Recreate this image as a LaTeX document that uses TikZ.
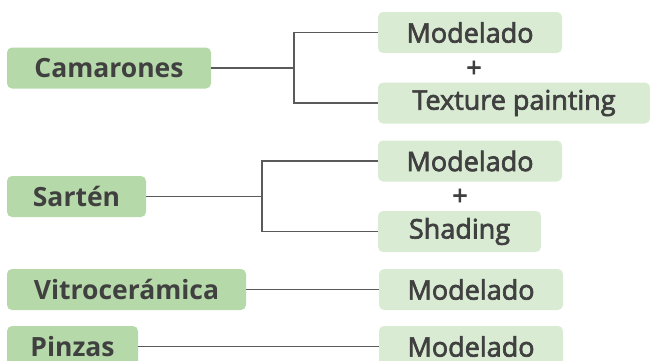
\documentclass[tikz,border=0pt]{standalone}
\usepackage{fontspec}
\setmainfont{Open Sans}
\newfontfamily\semib[FakeBold=2.5]{Open Sans}
\definecolor{darkfill}{HTML}{B6D9AA}
\definecolor{lightfill}{HTML}{D9ECD3}
\definecolor{txt}{HTML}{404040}
\definecolor{ln}{HTML}{5A5A5A}
\tikzset{
  leftbox/.style={fill=darkfill, rounded corners=5pt, minimum height=41pt, inner sep=0pt, text=txt, font=\fontsize{26.5}{26.5}\selectfont\bfseries},
  rightbox/.style={fill=lightfill, rounded corners=5pt, minimum height=41pt, inner sep=0pt, text=txt, font=\fontsize{27}{27}\semib},
  plus/.style={text=txt, font=\fontsize{27}{27}\semib, inner sep=0pt},
  conn/.style={draw=ln, line width=1.8pt}
}
\begin{document}
\begin{tikzpicture}[x=1pt,y=-1pt]
\useasboundingbox (0,0) rectangle (650,360);
\clip (0,0) rectangle (650,360);
\node[leftbox, minimum width=204pt] (cam) at (109,68) {Camarones};
\node[rightbox, minimum width=184pt] (m1) at (470,32.5) {Modelado};
\node[plus] (p1) at (474,69) {+};
\node[rightbox, minimum width=272pt] (tp) at (514,103) {Texture painting};
\node[rightbox, minimum width=184pt] (m2) at (470,161) {Modelado};
\node[leftbox, minimum width=139pt] (sar) at (76.5,196.5) {Sartén};
\node[plus] (p2) at (460,197) {+};
\node[rightbox, minimum width=163pt] (sh) at (459.5,231.5) {Shading};
\node[leftbox, minimum width=239pt] (vit) at (126.5,289.5) {Vitrocerámica};
\node[rightbox, minimum width=184pt] (m3) at (471,289.5) {Modelado};
\node[leftbox, minimum width=131pt] (pin) at (72.5,346.5) {Pinzas};
\node[rightbox, minimum width=184pt] (m4) at (471,346.5) {Modelado};
\coordinate (b1) at (294,68);
\coordinate (b2) at (262,196.5);
\draw[conn] (cam.east) -- (b1);
\draw[conn] (m1.west) -| (b1) |- (tp.west);
\draw[conn] (sar.east) -- (b2);
\draw[conn] (m2.west) -| (b2) |- (sh.west);
\draw[conn] (vit.east) -- (m3.west);
\draw[conn] (pin.east) -- (m4.west);
\end{tikzpicture}
\end{document}
